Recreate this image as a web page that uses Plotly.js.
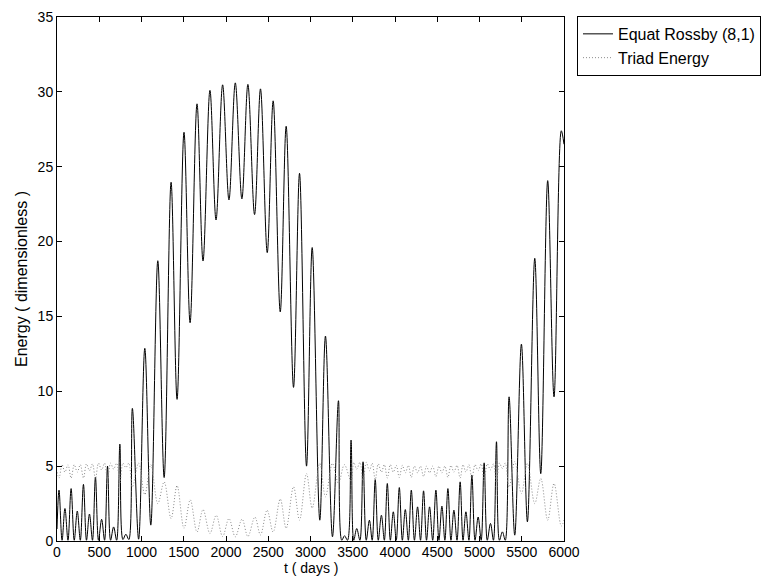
<!DOCTYPE html>
<html>
<head>
<meta charset="utf-8">
<script src="https://cdn.plot.ly/plotly-3.0.1.min.js"></script>
<style>
html,body{margin:0;padding:0;background:#fff;}
#chart{width:772px;height:577px;}
</style>
</head>
<body>
<div id="chart"></div>
<script>
// Equat Rossby (8,1) energy: turning points
var rossbyT = [0,24,60,94,130,167,204,240,276,313,349,384,420,455,491,528,563,598,634,670,706,744,780,815,850,892,966,
  1039,1110,1193,1268,1350,1421,1503,1575,1657,1728,1810,1882,1960,2035,2110,2188,2259,2338,2408,2488,2558,2642,2712,2799,
  2870,2953,3020,3110,3177,3260,3331,3370,3403,3438,3480,3512,3547,3585,3622,3660,3697,3730,3766,3802,3839,3874,3909,3945,
  3980,4015,4051,4087,4122,4158,4193,4230,4267,4302,4338,4373,4409,4446,4484,4520,4555,4590,4626,4662,4697,4734,4771,4805,
  4839,4875,4910,4947,4984,5020,5055,5092,5130,5165,5201,5236,5271,5305,5350,5417,5496,5567,5654,5725,5807,5882,5968,6000];
var rossbyE = [0.8,3.4,0.05,2.17,0.05,3.5,0.05,2.0,0.05,3.78,0.05,1.8,0.05,4.27,0.05,1.45,0.05,5.0,0.05,0.94,0.05,6.47,0.1,0.45,0.1,8.86,0.12,
  12.87,1.06,18.72,4.24,23.96,9.46,27.3,14.58,29.2,18.7,30.1,21.44,30.47,22.78,30.6,22.85,30.5,21.8,30.2,19.26,29.4,15.3,27.7,10.26,
  24.56,5.0,19.6,1.39,13.69,0.28,9.37,0.05,0.35,0.05,6.74,0.05,0.83,0.05,5.29,0.05,1.39,0.05,4.1,0.05,1.72,0.05,3.84,0.05,
  1.95,0.05,3.57,0.05,2.1,0.05,3.4,0.05,2.28,0.05,3.35,0.05,2.28,0.05,3.4,0.05,2.33,0.05,3.5,0.05,2.06,0.05,3.95,0.05,
  1.95,0.05,4.4,0.05,1.6,0.05,5.22,0.05,1.17,0.05,6.63,0.05,0.61,0.05,9.63,0.39,13.15,1.28,18.88,4.5,24.07,9.63,27.4,26.5];

// Triad energy: turning points
var triadT = [0,24,60,94,130,167,204,240,276,313,349,384,420,455,491,528,563,598,634,670,706,744,780,815,850,892,966,
  1039,1110,1193,1268,1350,1421,1503,1577,1657,1728,1810,1884,1960,2035,2110,2190,2259,2342,2408,2486,2558,2642,2712,2799,
  2870,2953,3020,3110,3177,3260,3331,3401,3480,3512,3547,3585,3622,3660,3697,3730,3766,3802,3839,3874,3909,3945,
  3980,4015,4051,4087,4122,4158,4193,4230,4267,4302,4338,4373,4409,4446,4484,4520,4555,4590,4626,4662,4697,4734,4771,4805,
  4839,4875,4910,4947,4984,5020,5055,5092,5130,5165,5201,5236,5271,5305,5350,5417,5496,5567,5654,5725,5807,5882,5968,6000];
var triadE = [4.6,4.2,5.1,4.6,5.1,4.2,5.1,4.6,5.1,4.2,5.15,4.7,5.15,4.15,5.2,4.75,5.2,4.1,5.2,4.8,5.2,3.9,5.2,4.9,5.2,3.6,5.2,
  3.1,5.1,2.5,3.95,1.5,3.7,0.85,2.75,0.6,2.1,0.5,1.72,0.3,1.5,0.28,1.46,0.3,1.6,0.4,2.06,0.6,2.8,0.85,3.62,
  1.39,4.5,2.2,5.18,2.95,5.18,3.86,5.1,4.0,5.25,4.8,5.25,4.0,5.25,4.7,5.2,4.1,5.15,4.6,5.1,4.2,5.1,
  4.6,5.05,4.25,5.05,4.55,5.05,4.25,5.0,4.55,5.0,4.3,5.0,4.55,5.0,4.3,5.0,4.55,5.0,4.25,5.05,4.6,5.05,4.2,5.1,
  4.6,5.1,4.15,5.1,4.7,5.15,4.05,5.15,4.75,5.15,3.9,5.2,4.85,5.2,3.6,5.3,3.17,5.18,2.5,4.18,1.39,3.84,1.0,1.4];

var xTicks = [0,500,1000,1500,2000,2500,3000,3500,4000,4500,5000,5500,6000];
var yTicks = [0,5,10,15,20,25,30,35];
var xTitle = 't ( days )';
var yTitle = 'Energy ( dimensionless )';

var fam = '"Liberation Sans", Arial, Helvetica, sans-serif';
var tickFont = {family:fam, size:14, color:'#000'};
var titleFont = {family:fam, size:16, color:'#000'};
var legendFont = {family:fam, size:16, color:'#000'};

var traces = [
  {x:rossbyT, y:rossbyE, type:'scatter', mode:'lines', name:'Equat Rossby (8,1)',
   line:{color:'#000', width:1, shape:'spline', smoothing:1}},
  {x:triadT, y:triadE, type:'scatter', mode:'lines', name:'Triad Energy',
   line:{color:'#8a8a8a', width:1, dash:'1px,2px', shape:'spline', smoothing:1}}
];

var axisCommon = {showline:true, linecolor:'#000', linewidth:1, mirror:'allticks', ticks:'inside',
  ticklen:5, tickcolor:'#000', tickwidth:1, showgrid:false, zeroline:false, tickfont:tickFont};

var layout = {
  width:772, height:577,
  margin:{l:57, r:207, t:17, b:36},
  paper_bgcolor:'#fff', plot_bgcolor:'#fff',
  font:tickFont,
  xaxis:Object.assign({}, axisCommon, {range:[0,6000], tickmode:'array', tickvals:xTicks, ticktext:xTicks.map(String),
    ticklabelstandoff:-2}),
  yaxis:Object.assign({}, axisCommon, {range:[0,35], tickmode:'array', tickvals:yTicks, ticktext:yTicks.map(String),
    title:{text:yTitle, font:titleFont, standoff:6}}),
  annotations:[{text:xTitle, xref:'paper', yref:'paper', x:0.5, y:-0.0687, xanchor:'center', yanchor:'bottom',
    showarrow:false, font:{family:fam, size:14, color:'#000'}, borderpad:0}],
  showlegend:true,
  legend:{x:1.0236, y:1.002, xanchor:'left', yanchor:'top', bordercolor:'#000', borderwidth:1,
    bgcolor:'#fff', font:legendFont, tracegroupgap:0, itemwidth:30}
};

Plotly.newPlot('chart', traces, layout, {displayModeBar:false, staticPlot:true});
</script>
</body>
</html>
